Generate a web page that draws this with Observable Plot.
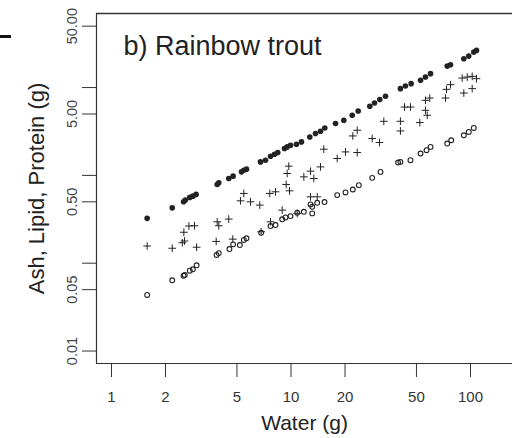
<!DOCTYPE html>
<html><head><meta charset="utf-8">
<script src="https://cdn.jsdelivr.net/npm/d3@7"></script>
<script src="https://cdn.jsdelivr.net/npm/@observablehq/plot@0.6"></script>
<style>
html,body{margin:0;padding:0;background:#fff;overflow:hidden;}
#chart{position:relative;width:512px;height:438px;}
#chart svg{display:block;}
#mark{position:absolute;left:0;top:35px;width:11px;height:3px;background:#111;}
</style></head><body>
<div id="chart"></div>
<script>
const title = "b) Rainbow trout";
const xTitle = "Water (g)";
const yTitle = "Ash, Lipid, Protein (g)";
const xTicks = [1, 2, 5, 10, 20, 50, 100];
const xTickLabels = ["1", "2", "5", "10", "20", "50", "100"];
const yTicks = [0.01, 0.05, 0.1, 0.5, 1, 5, 10, 50];
const yLabelValues = [0.01, 0.05, 0.5, 5, 50];
const yTickLabels = ["0.01", "0.05", "0.50", "5.00", "50.00"];

// Protein (filled dots)
const waterProtein = [1.58, 2.18, 2.52, 2.58, 2.73, 2.84, 2.96, 3.88, 3.96, 4.50, 4.76, 5.30, 5.46, 5.65, 6.76, 7.21, 7.69, 8.09, 8.44, 9.20, 9.52, 9.94, 10.73, 11.44, 12.73, 13.69, 14.60, 15.43, 17.70, 19.69, 21.93, 23.68, 27.48, 29.19, 31.24, 33.61, 40.7, 43.4, 46.7, 52.7, 56.1, 59.9, 74.2, 77.4, 91.8, 97.8, 104.3, 108.0];
const protein = [0.324, 0.427, 0.500, 0.523, 0.561, 0.580, 0.607, 0.788, 0.822, 0.922, 0.980, 1.097, 1.146, 1.177, 1.424, 1.488, 1.653, 1.742, 1.822, 2.022, 2.109, 2.204, 2.263, 2.404, 2.739, 2.994, 3.180, 3.467, 3.890, 4.241, 4.833, 5.409, 6.116, 6.668, 7.288, 7.946, 9.72, 10.40, 11.08, 12.08, 13.17, 14.39, 17.56, 18.21, 21.31, 22.81, 25.33, 26.48];

// Lipid (plus signs)
const waterLipid = [1.58, 2.18, 2.48, 2.53, 2.55, 2.70, 2.90, 2.98, 3.83, 3.88, 3.96, 4.50, 4.74, 5.23, 5.46, 5.95, 6.70, 6.82, 7.62, 7.69, 8.20, 8.93, 9.40, 9.52, 9.72, 9.81, 10.83, 11.79, 12.85, 12.85, 13.40, 14.00, 14.60, 15.23, 18.09, 20.12, 22.10, 23.38, 23.38, 28.34, 31.12, 32.89, 40.7, 40.7, 42.9, 46.3, 52.2, 56.1, 57.4, 59.3, 56.1, 72.6, 73.5, 77.4, 91.8, 102.2, 89.9, 95.9, 102.2, 108.0];
const lipid = [0.157, 0.148, 0.171, 0.225, 0.179, 0.265, 0.267, 0.152, 0.177, 0.296, 0.267, 0.318, 0.188, 0.513, 0.623, 0.500, 0.459, 0.228, 0.623, 0.296, 0.650, 0.402, 0.788, 1.051, 1.273, 0.667, 0.369, 0.962, 1.117, 0.570, 0.922, 0.570, 1.249, 1.986, 1.556, 1.850, 2.812, 3.264, 1.822, 2.628, 2.366, 4.13, 4.13, 3.204, 6.00, 6.00, 3.994, 5.51, 4.833, 7.60, 7.16, 7.60, 9.54, 10.79, 8.66, 9.72, 12.83, 13.17, 13.41, 12.63];

// Ash (open circles)
const waterAsh = [1.58, 2.18, 2.52, 2.56, 2.73, 2.84, 2.98, 3.85, 3.96, 4.54, 4.76, 5.19, 5.46, 5.65, 6.82, 7.69, 8.20, 8.93, 9.32, 9.94, 10.83, 11.79, 13.13, 12.85, 14.00, 13.13, 15.37, 18.09, 20.12, 22.10, 23.86, 28.34, 31.52, 39.5, 40.7, 46.3, 52.7, 56.9, 59.9, 74.2, 78.1, 91.8, 97.8, 104.3];
const ash = [0.0435, 0.0639, 0.0721, 0.0734, 0.0822, 0.0852, 0.0947, 0.124, 0.130, 0.145, 0.164, 0.161, 0.184, 0.192, 0.222, 0.265, 0.272, 0.316, 0.332, 0.344, 0.375, 0.385, 0.369, 0.467, 0.487, 0.439, 0.497, 0.596, 0.639, 0.691, 0.774, 0.937, 1.096, 1.40, 1.424, 1.489, 1.774, 1.934, 2.109, 2.305, 2.513, 2.864, 3.123, 3.467];

const ink = "#222";
const chart = Plot.plot({
  width: 512,
  height: 438,
  marginTop: 13,
  marginBottom: 75,
  marginLeft: 96,
  marginRight: 0,
  style: {fontFamily: "'Liberation Sans', Arial, sans-serif", fontSize: "15px", color: ink, background: "#fff"},
  x: {type: "log", domain: [0.825, 171.4], label: null},
  y: {type: "log", domain: [0.00721, 69.7], label: null},
  marks: [
    Plot.ruleY([69.7], {stroke: "#333", strokeWidth: 1.4}),
    Plot.ruleY([0.00721], {stroke: "#333", strokeWidth: 1.2}),
    Plot.ruleX([0.825], {stroke: "#333", strokeWidth: 1.2}),
    Plot.axisX({ticks: xTicks, tickSize: 14, tickPadding: 14, tickFormat: d => xTickLabels[xTicks.indexOf(+d)] ?? "", fill: "#333", stroke: "#333", fontSize: 15, label: null}),
    Plot.axisY({ticks: yTicks, tickSize: 14, tickFormat: () => "", stroke: "#333", label: null}),
    Plot.text(yLabelValues, {y: yLabelValues, text: yTickLabels, frameAnchor: "left", dx: -20, rotate: -90, textAnchor: "middle", lineAnchor: "bottom", fontSize: 14.5, fill: "#444"}),
    Plot.dot(protein, {x: waterProtein, y: protein, r: 2.8, fill: ink, stroke: null}),
    Plot.dot(lipid, {x: waterLipid, y: lipid, symbol: "plus", r: 2.6, stroke: ink, strokeWidth: 1}),
    Plot.dot(ash, {x: waterAsh, y: ash, r: 2.4, fill: "none", stroke: ink, strokeWidth: 1.1}),
    Plot.text([title], {frameAnchor: "top-left", dx: 27, dy: 22, lineAnchor: "top", textAnchor: "start", fontSize: 27, fill: ink}),
    Plot.text([yTitle], {frameAnchor: "left", rotate: -90, dx: -60, textAnchor: "middle", lineAnchor: "middle", fontSize: 22, fill: ink}),
    Plot.text([xTitle], {frameAnchor: "bottom", dy: 60, textAnchor: "middle", lineAnchor: "middle", fontSize: 21, fill: ink})
  ]
});
const host = document.getElementById("chart");
host.appendChild(chart);
const m = document.createElement("div");
m.id = "mark";
host.appendChild(m);
</script>
</body></html>
